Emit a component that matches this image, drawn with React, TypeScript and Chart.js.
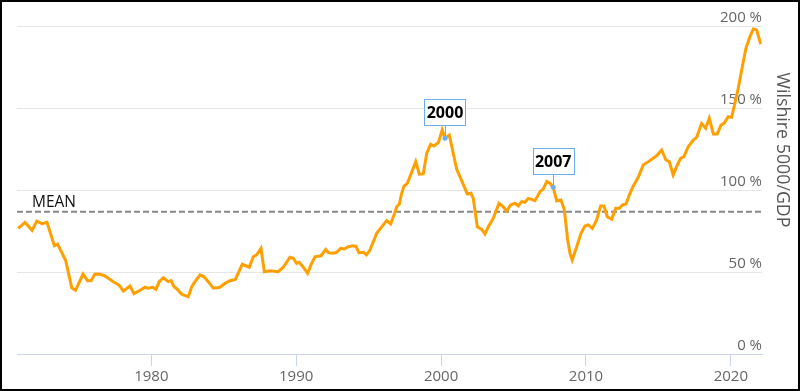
import { useEffect, useRef } from 'react';
import { Chart, registerables } from 'chart.js';
Chart.register(...registerables);

const years = [
  1970.82, 1971.28, 1971.77, 1972.09, 1972.46, 1972.8, 1973.31, 1973.54, 1973.82, 1974.09,
  1974.51, 1974.77, 1975.29, 1975.6, 1975.84, 1976.11, 1976.46, 1976.8, 1977.38, 1977.79,
  1978.07, 1978.53, 1978.81, 1979.17, 1979.57, 1979.79, 1980.1, 1980.32, 1980.55, 1980.83,
  1981.17, 1981.36, 1981.57, 1981.79, 1982.1, 1982.55, 1982.79, 1983.02, 1983.36, 1983.64,
  1983.93, 1984.28, 1984.74, 1985.09, 1985.43, 1985.8, 1986.28, 1986.76, 1987.04, 1987.27,
  1987.57, 1987.8, 1988.19, 1988.76, 1989.11, 1989.57, 1989.8, 1990.03, 1990.21, 1990.49,
  1990.79, 1991.02, 1991.3, 1991.71, 1992.04, 1992.22, 1992.56, 1992.79, 1993.07, 1993.32,
  1993.6, 1993.94, 1994.13, 1994.33, 1994.63, 1994.85, 1995.09, 1995.56, 1996.01, 1996.25,
  1996.52, 1996.75, 1996.94, 1997.12, 1997.28, 1997.44, 1997.67, 1997.9, 1998.25, 1998.5,
  1998.77, 1999.01, 1999.28, 1999.51, 1999.81, 2000.08, 2000.27, 2000.57, 2000.84, 2001.08,
  2001.3, 2001.58, 2001.81, 2002.06, 2002.22, 2002.5, 2002.8, 2003.03, 2003.26, 2003.6,
  2004.0, 2004.29, 2004.53, 2004.8, 2005.1, 2005.33, 2005.56, 2005.79, 2006.02, 2006.25,
  2006.48, 2006.83, 2007.05, 2007.29, 2007.52, 2007.74, 2007.98, 2008.27, 2008.5, 2008.74,
  2008.9, 2009.05, 2009.36, 2009.66, 2009.93, 2010.16, 2010.44, 2010.74, 2011.01, 2011.24,
  2011.47, 2011.77, 2012.05, 2012.3, 2012.53, 2012.76, 2013.04, 2013.26, 2013.61, 2013.95,
  2014.3, 2014.64, 2014.92, 2015.22, 2015.52, 2015.75, 2016.02, 2016.3, 2016.53, 2016.76,
  2017.06, 2017.41, 2017.64, 2017.98, 2018.26, 2018.51, 2018.79, 2019.06, 2019.32, 2019.53,
  2019.82, 2020.05, 2020.28, 2020.51, 2020.75, 2021.04, 2021.32, 2021.55, 2021.78, 2022.06,
];

const ratio = [
  76.6, 80.3, 75.4, 81.0, 79.5, 80.3, 66.0, 66.9, 61.8, 57.0,
  40.4, 38.8, 48.7, 44.7, 44.7, 48.8, 48.6, 47.6, 44.1, 41.9,
  38.4, 41.5, 36.8, 38.6, 40.7, 40.1, 40.7, 39.5, 44.1, 46.5,
  44.1, 44.7, 41.0, 39.5, 36.4, 34.9, 41.0, 44.1, 48.2, 47.1,
  44.1, 40.1, 40.7, 43.1, 44.7, 45.5, 54.7, 52.9, 59.3, 60.4,
  64.4, 50.2, 50.8, 50.2, 52.9, 59.0, 58.4, 55.3, 55.9, 52.9,
  49.2, 54.3, 59.3, 59.9, 63.8, 61.8, 61.4, 62.0, 64.4, 64.0,
  65.4, 66.0, 65.5, 61.8, 62.0, 60.5, 63.4, 73.6, 78.7, 81.3,
  79.3, 84.8, 89.8, 91.5, 98.0, 102.4, 104.1, 109.2, 117.3, 109.6,
  109.8, 122.4, 127.9, 126.8, 128.9, 136.6, 131.5, 133.5, 122.4, 112.6,
  108.1, 102.4, 97.6, 98.0, 94.9, 77.6, 76.0, 73.2, 77.6, 82.7,
  91.9, 89.8, 87.2, 90.9, 91.9, 90.3, 92.9, 92.5, 94.9, 94.3,
  93.5, 99.0, 100.6, 105.1, 104.1, 101.7, 93.3, 93.9, 88.2, 69.5,
  61.4, 57.3, 65.4, 73.6, 78.0, 78.7, 76.6, 81.7, 90.3, 90.3,
  83.7, 82.1, 88.8, 88.8, 90.9, 91.5, 98.0, 102.4, 107.7, 115.2,
  117.3, 119.3, 121.3, 124.4, 118.3, 117.3, 109.2, 115.2, 119.3, 120.3,
  126.4, 130.5, 132.1, 140.6, 137.6, 143.7, 134.2, 134.2, 139.6, 140.6,
  144.7, 144.3, 152.9, 162.0, 173.2, 186.4, 193.5, 198.2, 197.6, 188.9,
];

const meanValue = 86.8;
const meanLabel = 'MEAN';
const xTicks = [1980, 1990, 2000, 2010, 2020];
const yTicks = [0, 50, 100, 150, 200];
const xMin = 1970.73;
const xMax = 2022.15;
const annotationLabels = ['2000', '2007'];
const annotationYears = [2000.27, 2007.74];
const annotationValues = [131.5, 101.7];
const axisTitle = 'Wilshire 5000/GDP';

const FONT = '"Open Sans", "DejaVu Sans", sans-serif';

const overlayPlugin = {
  id: 'overlay',
  afterDatasetsDraw(chart: any) {
    const { ctx, scales } = chart;
    const xs = scales.x;
    const ys = scales.y;
    ctx.save();
    // mean label
    const my = ys.getPixelForValue(meanValue);
    ctx.fillStyle = '#111';
    ctx.font = `15.5px ${FONT}`;
    ctx.textAlign = 'left';
    ctx.textBaseline = 'alphabetic';
    ctx.fillText(meanLabel, 30, my - 5);

    // annotations
    annotationLabels.forEach((lab, i) => {
      const px = xs.getPixelForValue(annotationYears[i]);
      const py = ys.getPixelForValue(annotationValues[i]);
      const w = 41;
      const h = 26;
      const bottom = py - 13;
      ctx.strokeStyle = '#6aaef0';
      ctx.lineWidth = 1;
      ctx.beginPath();
      ctx.moveTo(Math.round(px) + 0.5, bottom);
      ctx.lineTo(Math.round(px) + 0.5, py);
      ctx.stroke();
      ctx.fillStyle = '#ffffff';
      const bx = Math.round(px - w / 2) + 0.5;
      const by = Math.round(bottom - h) + 0.5;
      ctx.fillRect(bx, by, w, h);
      ctx.strokeRect(bx, by, w, h);
      ctx.fillStyle = '#6aaef0';
      ctx.beginPath();
      ctx.arc(px, py, 2.5, 0, Math.PI * 2);
      ctx.fill();
      ctx.fillStyle = '#000';
      ctx.font = `bold 16px ${FONT}`;
      ctx.textAlign = 'center';
      ctx.textBaseline = 'middle';
      ctx.fillText(lab, px, by + h / 2 + 1);
    });

    // axis title
    ctx.translate(780, 148);
    ctx.rotate(Math.PI / 2);
    ctx.fillStyle = '#555';
    ctx.font = `17.8px ${FONT}`;
    ctx.textAlign = 'center';
    ctx.textBaseline = 'middle';
    ctx.fillText(axisTitle, 0, 0);
    ctx.restore();
  },
};

export default function App() {
  const ref = useRef<HTMLCanvasElement>(null);
  useEffect(() => {
    if (!ref.current) return;
    const chart = new Chart(ref.current, {
      type: 'line',
      data: {
        datasets: [
          {
            data: years.map((y, i) => ({ x: y, y: ratio[i] })),
            borderColor: '#ffa000',
            borderWidth: 3,
            pointRadius: 0,
            tension: 0,
            fill: false,
            order: 1,
          },
          {
            data: [
              { x: xMin, y: meanValue },
              { x: xMax, y: meanValue },
            ],
            borderColor: '#888888',
            borderWidth: 2,
            borderDash: [6, 3],
            pointRadius: 0,
            fill: false,
            order: 2,
          },
        ],
      },
      options: {
        animation: false,
        responsive: true,
        maintainAspectRatio: false,
        layout: { padding: { left: 15, top: 24, right: 36, bottom: 0 } },
        plugins: { legend: { display: false }, tooltip: { enabled: false } },
        scales: {
          x: {
            type: 'linear',
            min: xMin,
            max: xMax,
            afterBuildTicks: (s: any) => {
              s.ticks = xTicks.map((v) => ({ value: v }));
            },
            afterFit: (s: any) => {
              s.height = 35;
            },
            grid: {
              drawOnChartArea: false,
              drawTicks: true,
              tickLength: 12,
              color: '#ccd6eb',
            },
            border: { display: true, color: '#ccd6eb' },
            ticks: {
              color: '#666',
              font: { family: FONT, size: 15 },
              padding: 2,
              maxRotation: 0,
              callback: (v: any) => String(v),
            },
          },
          y: {
            position: 'right',
            min: 0,
            max: 200,
            afterBuildTicks: (s: any) => {
              s.ticks = yTicks.map((v) => ({ value: v }));
            },
            afterFit: (s: any) => {
              s.width = 0;
            },
            grid: { color: '#e6e6e6', drawTicks: false, tickLength: 0 },
            border: { display: false },
            ticks: {
              mirror: true,
              padding: 0,
              labelOffset: -8,
              color: '#666',
              font: { family: FONT, size: 15 },
              callback: (v: any) => `${v} %`,
            },
          },
        },
      },
      plugins: [overlayPlugin],
    });
    return () => chart.destroy();
  }, []);

  return (
    <div
      style={{
        position: 'fixed',
        left: 0,
        top: 0,
        width: 800,
        height: 391,
        boxSizing: 'border-box',
        border: '2px solid #000',
        background: '#fff',
      }}
    >
      <div style={{ position: 'relative', width: '100%', height: '100%' }}>
        <canvas ref={ref} />
      </div>
    </div>
  );
}
